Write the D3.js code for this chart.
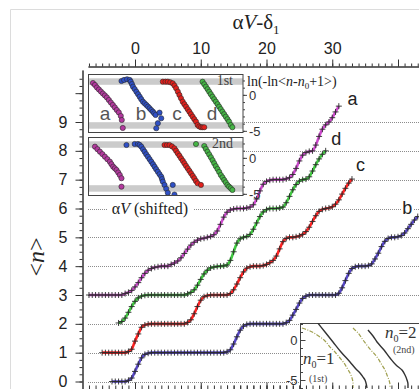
<!DOCTYPE html>
<html>
<head>
<meta charset="utf-8">
<script src="https://cdn.jsdelivr.net/npm/d3@7"></script>
<style>
  body { margin: 0; background: #fff; }
  svg { display: block; }
</style>
</head>
<body>
<script>
// ---- data ----
// main staircases: <n> sampled every 0.5 in alphaV - delta1, starting at xStart
const uStep = 0.5;
const aStart = -7, dStart = -2.5, cStart = -5, bStart = -3.5;

const nA = [3,3,3,3,3,3,3,3,3,3,3,
  3.05,3.09,3.16,3.28,3.43,3.60,3.75,3.86,3.92,3.96,3.98,4,4,4,
  4.06,4.11,4.18,4.29,4.44,4.59,4.73,4.83,4.90,4.95,4.97,5,
  5.03,5.09,5.22,5.45,5.70,5.87,5.95,5.98,6,6,6,
  6.02,6.05,6.13,6.33,6.61,6.84,6.94,6.98,7,7,7,7,
  7.03,7.07,7.18,7.39,7.65,7.85,7.94,7.98,8.0,
  8.2,8.5,8.75,8.9,9.0,9.15,9.35,9.55];

const nD = [2.03,2.08,2.2,2.4,2.6,2.78,2.9,2.96,2.99,
  3,3,3,3,3,3,3,3,3,3,3,3,
  3.04,3.09,3.18,3.34,3.54,3.73,3.86,3.94,3.97,3.99,
  4,4.01,4.04,4.2,4.5,4.8,4.95,5.0,5.03,
  5.1,5.28,5.5,5.72,5.88,5.96,6,6,6,6.02,
  6.05,6.2,6.42,6.65,6.83,6.95,7,7.02,
  7.1,7.3,7.52,7.72,7.88,8.0];

const nC = [1,1,1,1,1,1,1,1,
  1.04,1.12,1.4,1.65,1.88,1.96,1.99,
  2,2,2,2,2,2,2,2,2,2,2,
  2.05,2.14,2.35,2.6,2.82,2.94,2.98,3.0,
  3,3,3,3,3,
  3.05,3.18,3.38,3.6,3.8,3.93,3.98,4,4,
  4,4.02,4.06,4.12,4.2,4.35,4.6,4.85,4.96,5,5,5.02,
  5.05,5.1,5.2,5.35,5.55,5.75,5.9,5.97,6.0,6.02,6.06,6.15,6.3,6.5,6.7,6.88,7.02];

const nB = [0,0,0,0,0,
  0.04,0.12,0.35,0.6,0.82,0.94,0.98,1.0,
  1,1,1,1,1,1,1,1,1,1,1,1,1,1,1,1,1,1,1,1,1,1,
  1.03,1.1,1.3,1.55,1.78,1.92,1.98,2.0,
  2,2,2,2,2,2,2,2,2,2,
  2.04,2.12,2.3,2.5,2.72,2.88,2.96,3.0,
  3,3,3,3,3,3,3,3,
  3.06,3.25,3.5,3.75,3.92,3.98,4.0,
  4.0,4.0,4.02,4.08,4.25,4.45,4.68,4.86,4.96,5.0,
  5.0,5.02,5.06,5.15,5.3,5.45,5.6,5.72];

const xTickLabels = [0, 10, 20, 30];
const xMajor = [0, 10, 20, 30, 40];
const yTickLabels = [0, 1, 2, 3, 4, 5, 6, 7, 8, 9];

// insets: ln(-ln<n-n0+1>) vs shifted alphaV, [x, y]
const in1A = [[2.5,1.65],[3.5,1.38],[4.5,1.03],[5.5,0.75],[6.5,0.47],[7.5,0.19],[8.5,-0.08],[9.5,-0.36],[10.5,-0.71],[11.5,-1.06],[12.5,-1.40],[13.5,-1.75],[14.5,-2.10],[15.5,-2.44],[16.5,-2.93],[17,-3.49],[17.5,-4.6]];
const in1B = [[16.85,1.93],[18.15,2.07],[19.65,2.17],[21,2.07],[21.5,1.83],[22.1,1.5],[22.65,1.14],[23.5,0.8],[24.35,0.44],[25.2,0.1],[26,-0.25],[26.8,-0.6],[27.65,-0.94],[28.5,-1.17],[29.35,-1.40],[30.2,-1.63],[31,-1.86],[31.8,-2.1],[32.65,-2.33],[33.3,-2.56],[34,-2.79],[36,-2.47],[36.85,-3.25],[35.15,-3.94],[34.35,-4.64]];
const in1C = [[37.65,1.83],[39,1.83],[40.15,1.83],[41.4,1.75],[42.65,1.61],[43.5,1.3],[44.35,0.92],[45.2,0.45],[46,-0.01],[46.8,-0.47],[47.65,-0.94],[48.5,-1.3],[49.35,-1.64],[50.2,-2.0],[51,-2.33],[51.8,-2.68],[52.65,-3.03],[53.5,-3.38],[54.35,-3.72],[55.15,-4.18],[56,-4.4],[56.85,-4.5],[57.7,-4.5],[58.5,-4.5]];
const in1D = [[57.65,1.83],[58.5,1.48],[59.35,1.14],[60.2,0.79],[61,0.44],[61.8,0.1],[62.65,-0.25],[63.5,-0.6],[64.35,-0.94],[65.2,-1.29],[66,-1.64],[66.8,-1.98],[67.65,-2.33],[68.5,-2.68],[69.35,-3.03],[70.2,-3.38],[71,-3.72],[71.85,-4.18],[72.65,-4.5]];

const in2A = [[3.5,1.56],[4.75,1.21],[6,0.86],[7.25,0.52],[8.5,0.17],[9.75,-0.18],[11,-0.53],[11.8,-0.87],[12.65,-1.22],[13.5,-1.45],[14.35,-1.68],[15.2,-2.03],[16,-2.38],[16.85,-2.83],[16.85,-4.0]];
const in2B = [[19.35,1.79],[23.5,1.93],[25.15,1.93],[26,1.8],[26.85,1.56],[27.7,1.2],[28.5,0.86],[29.3,0.5],[30.15,0.17],[31,-0.18],[31.85,-0.53],[32.7,-0.88],[33.5,-1.22],[34.3,-1.57],[35.15,-1.92],[36,-2.27],[36.85,-2.61],[37.25,-2.95],[37.65,-3.3],[38.5,-3.76],[39.35,-4.29],[40.15,-4.85],[42.65,-3.76],[43.5,-5.1]];
const in2C = [[38.5,1.79],[39.75,1.79],[41,1.79],[42.25,1.6],[43.5,1.33],[44.3,1.0],[45.15,0.64],[46,0.3],[46.85,-0.06],[47.7,-0.4],[48.5,-0.75],[49.3,-1.1],[50.15,-1.44],[51,-1.8],[51.85,-2.14],[52.7,-2.5],[53.5,-2.83],[54.3,-3.2],[55.15,-3.53],[56.85,-3.76]];
const in2D = [[54.35,1.93],[58.5,1.65],[59.3,1.25],[60.15,0.86],[61,0.47],[61.85,0.08],[62.7,-0.33],[63.5,-0.75],[64.3,-1.15],[65.15,-1.54],[66,-1.95],[66.85,-2.38],[67.7,-2.72],[68.5,-3.07],[69.3,-3.4],[70.15,-3.76],[71,-4.0],[71.85,-4.22],[72.65,-4.46]];

const insetBands = [[1.4, 2.3], [-4.7, -3.8]];

// lower-right inset: model curves
const fitSolid1 = [[2.58,2.25],[3.79,1.0],[5.0,-0.25],[6.21,-1.5],[7.58,-2.75],[8.48,-3.63],[9.09,-4.13],[9.55,-4.63],[9.85,-5.0],[10.0,-5.38],[10.15,-6.0]];
const fitDash1 = [[0.3,1.5],[1.52,1.13],[2.58,0.63],[3.64,0],[4.55,-0.88],[5.3,-1.5],[6.06,-2.25],[6.67,-2.88],[7.12,-3.5],[7.58,-4.13],[7.88,-4.75],[8.03,-5.38],[8.03,-6.0]];
const fitSolid2 = [[10.3,1.25],[11.06,0.5],[11.67,-0.25],[12.73,-1.25],[13.64,-2.25],[14.55,-3.13],[15.45,-3.75],[15.91,-4.38],[16.21,-5.0],[16.36,-5.5],[16.36,-6.0]];
const fitDash2 = [[8.03,1.5],[8.79,0.88],[9.55,0],[10.61,-1.13],[11.67,-2.13],[12.42,-3.13],[12.88,-3.75],[13.18,-4.38],[13.48,-5.0],[13.64,-5.63],[13.64,-6.0]];

// ---- chart ----
const W = 419, H = 389;
const SANS = "'Liberation Sans', Arial, sans-serif";
const SERIF = "'Liberation Serif', 'Times New Roman', serif";

const svg = d3.select("body").append("svg")
  .attr("width", W).attr("height", H)
  .style("font-family", SANS);

const x = d3.scaleLinear().domain([0, 40]).range([135, 398]);
const y = d3.scaleLinear().domain([0, 9]).range([381.5, 122]);

// faint outer frame
svg.append("path").attr("d", "M10.5,389V9.5H419")
  .attr("fill", "none").attr("stroke", "#dcdcdc");

// dotted guide lines at integer <n>
svg.append("g").selectAll("line")
  .data(yTickLabels)
  .join("line")
  .attr("x1", 88).attr("x2", W)
  .attr("y1", d => Math.round(y(d)) + 0.5).attr("y2", d => Math.round(y(d)) + 0.5)
  .attr("stroke", "#8c8c8c").attr("stroke-width", 1)
  .attr("stroke-dasharray", "1,1");

// staircases
const curves = [
  { name: "b", start: bStart, vals: nB, color: "#5646c6" },
  { name: "c", start: cStart, vals: nC, color: "#ff2222" },
  { name: "d", start: dStart, vals: nD, color: "#40c840" },
  { name: "a", start: aStart, vals: nA, color: "#cc48cc" }
];

const line = d3.line()
  .x(d => x(d[0])).y(d => y(d[1]))
  .curve(d3.curveMonotoneX);

curves.forEach(c => {
  const pts = c.vals.map((v, i) => [c.start + i * uStep, v]);
  const g = svg.append("g");
  g.append("path").datum(pts)
    .attr("d", line)
    .attr("fill", "none").attr("stroke", c.color).attr("stroke-width", 2.6);
  g.selectAll("path.m").data(pts).join("path")
    .attr("class", "m")
    .attr("transform", d => `translate(${x(d[0])},${y(d[1])})`)
    .attr("d", "M-3,0H3M0,-3V3")
    .attr("stroke", "#2b2b2b").attr("stroke-width", 0.9);
});

// ---- axes ----
const xAx = x.copy().domain([x.invert(88), x.invert(W)]).range([88, W]);

function styleAxis(g) {
  g.selectAll(".domain").attr("stroke", "#333");
  g.selectAll(".tick line").attr("stroke", "#333");
  g.selectAll(".tick text").attr("font-size", 16).attr("fill", "#222")
    .attr("font-family", SANS);
}

const topMinor = svg.append("g").attr("transform", "translate(0,66.5)")
  .call(d3.axisTop(xAx).tickValues(d3.range(-7, 44)).tickSize(3).tickSizeOuter(0).tickFormat(""));
styleAxis(topMinor);
const topMajor = svg.append("g").attr("transform", "translate(0,66.5)")
  .call(d3.axisTop(xAx).tickValues(xMajor).tickSize(7).tickSizeOuter(0).tickPadding(6)
    .tickFormat(d => xTickLabels.includes(d) ? d : ""));
styleAxis(topMajor);

const botMinor = svg.append("g").attr("transform", "translate(0,389.5)")
  .call(d3.axisBottom(xAx).tickValues(d3.range(-7, 44)).tickSize(-4).tickSizeOuter(0).tickFormat(""));
styleAxis(botMinor);
const botMajor = svg.append("g").attr("transform", "translate(0,389.5)")
  .call(d3.axisBottom(xAx).tickValues(xMajor).tickSize(-7).tickSizeOuter(0).tickFormat(""));
styleAxis(botMajor);

const yAx = y.copy().domain([y.invert(392), y.invert(70)]).range([392, 70]);
const leftMinor = svg.append("g").attr("transform", "translate(82.5,0)")
  .call(d3.axisLeft(yAx).tickValues(d3.range(0, 43).map(i => i * 0.25)).tickSize(3).tickSizeOuter(0).tickFormat(""));
styleAxis(leftMinor);
const leftMajor = svg.append("g").attr("transform", "translate(82.5,0)")
  .call(d3.axisLeft(yAx).tickValues(d3.range(0, 11)).tickSize(7).tickSizeOuter(0).tickPadding(8)
    .tickFormat(d => yTickLabels.includes(d) ? d : ""));
styleAxis(leftMajor);

// axis titles
const title = svg.append("text")
  .attr("x", 256).attr("y", 29).attr("text-anchor", "middle")
  .attr("font-family", SERIF).attr("font-size", 21).attr("fill", "#222");
title.append("tspan").text("α");
title.append("tspan").attr("font-style", "italic").text("V");
title.append("tspan").text("-δ");
title.append("tspan").attr("font-size", 13).attr("dy", 5).text("1");

const yTitle = svg.append("text")
  .attr("transform", "translate(44,257) rotate(-90)")
  .attr("text-anchor", "middle")
  .attr("font-family", SERIF).attr("font-size", 24).attr("fill", "#222");
yTitle.append("tspan").text("<");
yTitle.append("tspan").attr("font-style", "italic").text("n");
yTitle.append("tspan").text(">");

// curve labels
const curveLabels = [
  { t: "a", u: 33.1, n: 9.6 },
  { t: "d", u: 30.6, n: 8.2 },
  { t: "c", u: 34.3, n: 7.3 },
  { t: "b", u: 41.4, n: 5.8 }
];
// white patch behind "b" where it sits on a guide line
svg.append("rect")
  .attr("x", x(41.4) - 6).attr("y", y(6) - 4).attr("width", 12).attr("height", 8)
  .attr("fill", "#fff");
svg.append("g").selectAll("text").data(curveLabels).join("text")
  .attr("x", d => x(d.u)).attr("y", d => y(d.n))
  .attr("text-anchor", "middle")
  .attr("font-size", 18).attr("fill", "#222")
  .text(d => d.t);

// ---- the two stacked insets (1st / 2nd) ----
const ix = d3.scaleLinear().domain([0, 78]).range([88, 243]);
const insetYDomain = [-5.3, 2.9];
const insetColors = ["#b3399e", "#2f50c6", "#e2201c", "#45b545"];

function drawInset(top, bottom, groups, tag, letters) {
  const iy = d3.scaleLinear().domain(insetYDomain).range([bottom, top]);
  const g = svg.append("g");
  const clipId = "clip" + top;
  g.append("clipPath").attr("id", clipId).append("rect")
    .attr("x", 88).attr("y", top).attr("width", 155).attr("height", bottom - top);
  g.append("rect")
    .attr("x", 88).attr("y", top).attr("width", 155).attr("height", bottom - top)
    .attr("fill", "#fff");
  g.selectAll("rect.band").data(insetBands).join("rect")
    .attr("class", "band")
    .attr("x", 88).attr("width", 155)
    .attr("y", d => iy(d[1])).attr("height", d => iy(d[0]) - iy(d[1]))
    .attr("fill", "#cbcbcb");
  const pg = g.append("g").attr("clip-path", `url(#${clipId})`);
  groups.forEach((pts, k) => {
    pg.selectAll(null).data(pts).join("circle")
      .attr("cx", d => ix(d[0])).attr("cy", d => iy(d[1]))
      .attr("r", 2.6)
      .attr("fill", insetColors[k]).attr("stroke", "#2a2a2a").attr("stroke-width", 0.6);
  });
  if (letters) {
    g.selectAll("text.lt").data(["a", "b", "c", "d"]).join("text")
      .attr("class", "lt")
      .attr("x", (d, i) => [105, 141, 177, 212][i]).attr("y", iy(-3.5))
      .attr("text-anchor", "middle").attr("font-size", 19).attr("fill", "#555")
      .text(d => d);
  }
  g.append("text").attr("x", 233).attr("y", iy(1.35))
    .attr("text-anchor", "end").attr("font-family", SERIF)
    .attr("font-size", 14).attr("fill", "#444").text(tag);
  g.append("rect")
    .attr("x", 88.5).attr("y", top + 0.5).attr("width", 154.5).attr("height", bottom - top - 1)
    .attr("fill", "none").attr("stroke", "#444");
  const ax = g.append("g").attr("transform", "translate(243,0)");
  ax.call(d3.axisRight(iy).tickValues(d3.range(-5, 3)).tickSize(2).tickSizeOuter(0).tickFormat(""));
  ax.call(a => a.select(".domain").remove());
  const ax2 = g.append("g").attr("transform", "translate(243,0)");
  ax2.call(d3.axisRight(iy).tickValues([0, -5]).tickSize(4).tickSizeOuter(0).tickPadding(2)
    .tickFormat(d => String(d)));
  ax2.call(a => a.select(".domain").remove());
  [ax, ax2].forEach(a => {
    a.selectAll(".tick line").attr("stroke", "#444");
    a.selectAll(".tick text").attr("font-size", 13).attr("fill", "#333").attr("font-family", SANS);
  });
}

drawInset(74, 133, [in1A, in1B, in1C, in1D], "1st", true);
drawInset(137, 196, [in2A, in2B, in2C, in2D], "2nd", false);

// inset y label
const lnLab = svg.append("text")
  .attr("x", 247).attr("y", 86)
  .attr("font-family", SERIF).attr("font-size", 14).attr("fill", "#222");
lnLab.append("tspan").text("ln(-ln<");
lnLab.append("tspan").attr("font-style", "italic").text("n-n");
lnLab.append("tspan").attr("font-size", 9).attr("dy", 3).text("0");
lnLab.append("tspan").attr("dy", -3).text("+1>)");

// "alphaV (shifted)" on the n = 6 guide line
svg.append("rect").attr("x", 107).attr("y", 202).attr("width", 86).attr("height", 13).attr("fill", "#fff");
const shLab = svg.append("text")
  .attr("x", 150).attr("y", 214).attr("text-anchor", "middle")
  .attr("font-family", SERIF).attr("font-size", 16).attr("fill", "#222");
shLab.append("tspan").text("α");
shLab.append("tspan").attr("font-style", "italic").text("V");
shLab.append("tspan").text("  (shifted)");

// ---- lower-right inset ----
const rx = d3.scaleLinear().domain([0, 20]).range([300, 432]);
const ry = d3.scaleLinear().domain([0, -5]).range([340, 380]);
const rg = svg.append("g");
rg.append("clipPath").attr("id", "clipR").append("rect")
  .attr("x", 300).attr("y", 323).attr("width", 130).attr("height", 70);
rg.append("rect").attr("x", 300.5).attr("y", 323.5).attr("width", 130).attr("height", 80)
  .attr("fill", "#fff").attr("stroke", "#444");
const rl = d3.line().x(d => rx(d[0])).y(d => ry(d[1])).curve(d3.curveMonotoneY);
const rp = rg.append("g").attr("clip-path", "url(#clipR)");
[fitDash1, fitDash2].forEach(pts => rp.append("path").datum(pts).attr("d", rl)
  .attr("fill", "none").attr("stroke", "#a0a050").attr("stroke-width", 1.2)
  .attr("stroke-dasharray", "4,1.5,1,1.5"));
[fitSolid1, fitSolid2].forEach(pts => rp.append("path").datum(pts).attr("d", rl)
  .attr("fill", "none").attr("stroke", "#333").attr("stroke-width", 1.4));
const ra1 = rg.append("g").attr("transform", "translate(300.5,0)")
  .call(d3.axisLeft(ry).tickValues(d3.range(-6, 3)).tickSize(-2.5).tickSizeOuter(0).tickFormat(""));
ra1.select(".domain").remove();
const ra2 = rg.append("g").attr("transform", "translate(300.5,0)")
  .call(d3.axisLeft(ry).tickValues([0, -5]).tickSize(-5).tickSizeOuter(0).tickPadding(3).tickFormat(d => String(d)));
ra2.select(".domain").remove();
[ra1, ra2].forEach(a => {
  a.selectAll(".tick line").attr("stroke", "#444");
  a.selectAll(".tick text").attr("font-size", 13).attr("fill", "#333").attr("font-family", SANS);
});

function n0Label(px, py, val, sub, sx, sy) {
  const t = rg.append("text").attr("x", px).attr("y", py)
    .attr("font-family", SERIF).attr("font-size", 17).attr("fill", "#333");
  t.append("tspan").attr("font-style", "italic").text("n");
  t.append("tspan").attr("font-size", 10).attr("dy", 4).text("0");
  t.append("tspan").attr("dy", -4).text("=" + val);
  rg.append("text").attr("x", sx).attr("y", sy)
    .attr("font-family", SERIF).attr("font-size", 10).attr("fill", "#444").text(sub);
}
n0Label(303, 364, 1, "(1st)", 309, 382);
n0Label(385, 338, 2, "(2nd)", 393, 353);

// redraw bottom ticks over the inset
const botMinor2 = svg.append("g").attr("transform", "translate(0,389.5)")
  .call(d3.axisBottom(xAx).tickValues(d3.range(14, 44)).tickSize(-4).tickSizeOuter(0).tickFormat(""));
styleAxis(botMinor2);
const botMajor2 = svg.append("g").attr("transform", "translate(0,389.5)")
  .call(d3.axisBottom(xAx).tickValues([30, 40]).tickSize(-7).tickSizeOuter(0).tickFormat(""));
styleAxis(botMajor2);
</script>
</body>
</html>
